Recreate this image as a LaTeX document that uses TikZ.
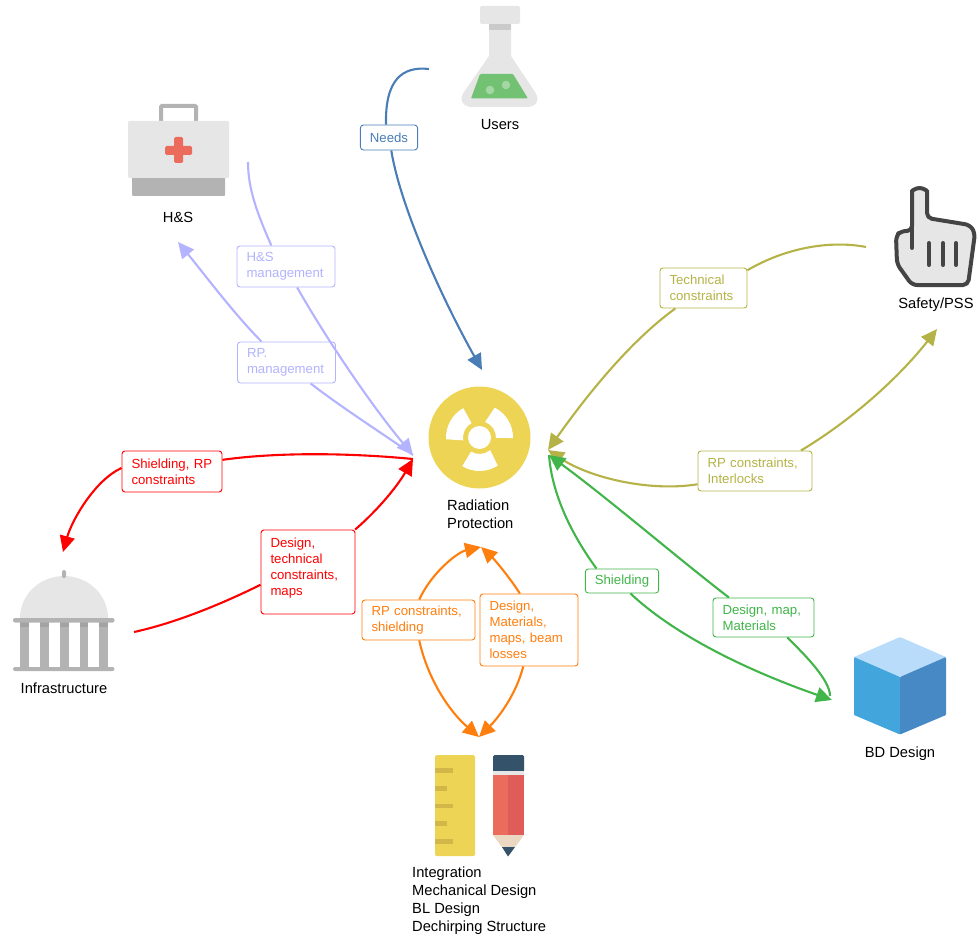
\documentclass[tikz,border=0pt]{standalone}
\usepackage{fontspec}
\setmainfont{Liberation Sans}
\usetikzlibrary{arrows.meta}

\definecolor{blueline}{HTML}{4A7DB5}
\definecolor{lilac}{HTML}{B3B3FF}
\definecolor{olive}{HTML}{B5B347}
\definecolor{greenline}{HTML}{41B54A}
\definecolor{orangeline}{HTML}{FF7F0E}
\definecolor{redline}{HTML}{FF0000}
\definecolor{lightgrey}{HTML}{E6E6E6}
\definecolor{midgrey}{HTML}{B3B3B3}
\definecolor{darkgrey}{HTML}{A3A3A3}
\definecolor{handgrey}{HTML}{444444}
\definecolor{sun}{HTML}{EDD455}
\definecolor{tick}{HTML}{D2B648}
\definecolor{coral}{HTML}{EB6B5C}
\definecolor{coraldark}{HTML}{E05C58}
\definecolor{navy}{HTML}{34536A}
\definecolor{wood}{HTML}{EBD8C3}
\definecolor{flaskgreen}{HTML}{73C274}
\definecolor{bubble}{HTML}{A3D7A3}
\definecolor{cubetop}{HTML}{B9DCFB}
\definecolor{cubeleft}{HTML}{42A5DC}
\definecolor{cuberight}{HTML}{4789C4}

\tikzset{
  caption/.style={font=\fontsize{14.7}{18}\selectfont,align=left,inner sep=0pt},
  tag/.style={draw=#1,text=#1,fill=white,rounded corners=3pt,line width=0.9pt,
    font=\fontsize{13.2}{16}\selectfont,align=left,inner xsep=9.5pt,inner ysep=0pt},
  conn/.style={draw=#1,line width=2.1pt},
  >={Triangle[length=16pt,width=15pt]}
}

\begin{document}
\begin{tikzpicture}[x=1pt,y=-1pt]
  \useasboundingbox (0,0) rectangle (977,936);

  % users
  \fill[lightgrey,rounded corners=2pt] (480,6) rectangle (520,24);
  \fill[lightgrey] (489,24) -- (489,56) -- (464,92) .. controls (458,101) and (464,107) .. (472,107) -- (527,107) .. controls (535,107) and (541,101) .. (535,92) -- (511,56) -- (511,24) -- cycle;
  \fill[midgrey!70] (489,24) rectangle (511,30);
  \fill[flaskgreen,rounded corners=1pt] (480,74) -- (513,74) -- (528,98.5) -- (471,98.5) -- cycle;
  \fill[bubble] (490,90) circle (4.3) (506,85) circle (4.3);
  \node[caption] (users) at (500,124.5) {Users};

  % health and safety
  \draw[midgrey,line width=4pt,rounded corners=1pt] (161,121) -- (161,106) -- (196,106) -- (196,121);
  \fill[midgrey,rounded corners=1pt] (132,170) rectangle (225,196);
  \fill[lightgrey,rounded corners=1pt] (128,121) rectangle (229,178);
  \fill[coral,rounded corners=1.5pt] (174,137) rectangle (183,163);
  \fill[coral,rounded corners=1.5pt] (165,146) rectangle (192,155);
  \node[caption] (hs) at (178,217.5) {H\&S};

  % radiation protection
  \fill[sun] (479.5,437.5) circle (51);
  \begin{scope}[shift={(479.5,437.5)},y=1pt]
    \foreach \rot in {0,120,240} {
      \fill[white,rotate=\rot] (-1:33.5) arc[start angle=-1,end angle=63,radius=33.5] -- (70:16.5) arc[start angle=70,end angle=-1,radius=16.5] -- cycle;
    }
  \end{scope}
  \fill[sun] (479.5,437.5) circle (15.5);
  \fill[white] (479.5,437.5) circle (11.5);
  \node[caption,anchor=west] (rp) at (447,514) {Radiation\\Protection};

  % safety
  \draw[handgrey,fill=lightgrey,line width=4pt,line join=round,rounded corners=5pt]
    (912,231) -- (912,195.5) arc[start angle=180,end angle=360,radius=7.5] -- (927,218) -- (970,225) -- (975,233) -- (968,285) -- (912,285) -- (897,264) -- (896,236) -- (901,231) -- cycle;
  \draw[handgrey,line width=4pt,line cap=round] (912,225) -- (912,248);
  \foreach \x in {929,943,956} {
    \draw[handgrey,line width=4pt,line cap=round] (\x,243) -- (\x,265);
  }
  \node[caption] (safety) at (936,304.5) {Safety/PSS};

  % infrastructure
  \fill[lightgrey] (20,618) arc[start angle=180,end angle=360,x radius=44,y radius=42] -- cycle;
  \fill[midgrey,rounded corners=1.5pt] (62,570) rectangle (66,578);
  \foreach \x in {20,40,60,79.5,99} {
    \fill[midgrey] (\x,622) rectangle (\x+8.5,667);
    \fill[darkgrey] (\x,622) rectangle (\x+8.5,627);
  }
  \fill[midgrey,rounded corners=2pt] (13,618) rectangle (114.5,622.5);
  \fill[midgrey,rounded corners=2pt] (13,667) rectangle (114.5,671);
  \node[caption] (infra) at (64,688) {Infrastructure};

  % integration
  \fill[sun,rounded corners=1.5pt] (435,755) rectangle (475,856);
  \foreach \y/\len in {768/18,786/12,803.5/18,821/12,839/18} {
    \fill[tick] (435,\y) rectangle (435+\len,\y+4.5);
  }
  \fill[navy,rounded corners=1.5pt] (493,755) rectangle (524,772);
  \fill[lightgrey] (493,771) rectangle (524,775);
  \fill[wood] (493,835) -- (524,835) -- (508.5,856) -- cycle;
  \fill[navy] (502,847) -- (515,847) -- (508,856.5) -- cycle;
  \fill[coral] (493,775) rectangle (508,835);
  \fill[coraldark] (508,775) rectangle (524,835);
  \node[caption,anchor=north west] (integ) at (412,867) {Integration\\Mechanical Design\\BL Design\\Dechirping Structure};

  % bd design
  \fill[cubetop,rounded corners=0.8pt] (900,637) -- (946,657) -- (900,677) -- (854,657) -- cycle;
  \fill[cubeleft,rounded corners=0.8pt] (854,657) -- (900,677) -- (900,734.5) -- (854,715) -- cycle;
  \fill[cuberight,rounded corners=0.8pt] (946,657) -- (900,677) -- (900,734.5) -- (946,715) -- cycle;
  \node[caption] (bd) at (900,754) {BD Design};

  % tags
  \node[tag=blueline,minimum height=25pt] (needs) at (389,137.5) {Needs};
  \node[tag=lilac,text width=79pt,minimum height=41pt] (hsman) at (286,266.5) {H\&S\\management};
  \node[tag=lilac,text width=79pt,minimum height=41pt] (rpman) at (286.5,362.5) {RP.\\management};
  \node[tag=redline,text width=81pt,minimum height=41pt] (shieldrp) at (172,471.5) {Shielding, RP\\constraints};
  \node[tag=redline,text width=75pt,minimum height=84pt] (designtech) at (308,572) {Design,\\technical\\constraints,\\maps\\[-6pt]\mbox{}};
  \node[tag=orangeline,text width=94pt,minimum height=40pt] (rpshield) at (418.5,620) {RP constraints,\\shielding};
  \node[tag=orangeline,text width=79pt,minimum height=72pt] (designmat) at (529,630) {Design,\\Materials,\\maps, beam\\losses};
  \node[tag=olive,text width=68pt,minimum height=40pt] (tech) at (703.5,288) {Technical\\constraints};
  \node[tag=olive,text width=95pt,minimum height=40pt] (interlock) at (755,471) {RP constraints,\\Interlocks};
  \node[tag=greenline,minimum height=24pt] (shielding) at (622,581) {Shielding};
  \node[tag=greenline,text width=82pt,minimum height=39pt] (designmap) at (763.5,617.5) {Design, map,\\Materials};

  % free ends
  \coordinate (usersout) at (429,69);
  \coordinate (rptop) at (482,370);
  \coordinate (hsout) at (248,162);
  \coordinate (hsin) at (178,242);
  \coordinate (rpleft) at (413,455);
  \coordinate (redleft) at (413,459);
  \coordinate (infrain) at (63,552);
  \coordinate (infraout) at (134,632);
  \coordinate (rpbottom) at (481,547);
  \coordinate (integin) at (479,737);
  \coordinate (rpright) at (548,450);
  \coordinate (rpgreen) at (549,455);
  \coordinate (safetyout) at (866,247);
  \coordinate (safetyin) at (937,329);
  \coordinate (bdin) at (832,700);
  \coordinate (bdout) at (830,696);

  % connectors
  \draw[conn=blueline] (usersout) .. controls (402,66) and (385,80) .. (needs.103);
  \draw[conn=blueline,->] (needs.-80) .. controls (400,205) and (440,295) .. (rptop);

  \draw[conn=lilac] (hsout) .. controls (248,190) and (258,215) .. (hsman.125);
  \draw[conn=lilac,->] (hsman.-62) .. controls (330,345) and (375,410) .. (rpleft);
  \draw[conn=lilac,->] (rpman.140) .. controls (235,315) and (205,275) .. (hsin);
  \draw[conn=lilac] (rpman.-41) .. controls (345,410) and (385,435) .. (rpleft);

  \draw[conn=redline] (redleft) .. controls (340,452) and (270,453) .. (shieldrp.13);
  \draw[conn=redline,->] (shieldrp.176) .. controls (95,480) and (72,520) .. (infrain);
  \draw[conn=redline] (infraout) .. controls (180,622) and (230,600) .. (designtech.195.5);
  \draw[conn=redline,->] (designtech.42) .. controls (380,508) and (398,485) .. (redleft);

  \draw[conn=orangeline,->] (rpshield.88) .. controls (432,572) and (458,552) .. (rpbottom);
  \draw[conn=orangeline,->] (rpshield.-88) .. controls (428,680) and (450,712) .. (integin);
  \draw[conn=orangeline,->] (designmat.104) .. controls (510,578) and (495,560) .. (rpbottom);
  \draw[conn=orangeline,->] (designmat.-99) .. controls (516,695) and (498,718) .. (integin);

  \draw[conn=olive] (safetyout) .. controls (830,240) and (785,248) .. (tech.22);
  \draw[conn=olive,->] (tech.216) .. controls (625,345) and (580,405) .. (rpright);
  \draw[conn=olive,->] (interlock.193) .. controls (650,492) and (590,478) .. (rpright);
  \draw[conn=olive,->] (interlock.24) .. controls (860,415) and (905,370) .. (safetyin);

  \draw[conn=greenline] (rpgreen) .. controls (552,495) and (572,535) .. (shielding.154);
  \draw[conn=greenline,->] (shielding.-56) .. controls (680,640) and (760,675) .. (bdin);
  \draw[conn=greenline,->] (designmap.150) .. controls (680,560) and (610,500) .. (rpgreen);
  \draw[conn=greenline] (designmap.-40) .. controls (805,655) and (830,680) .. (bdout);
\end{tikzpicture}
\end{document}
